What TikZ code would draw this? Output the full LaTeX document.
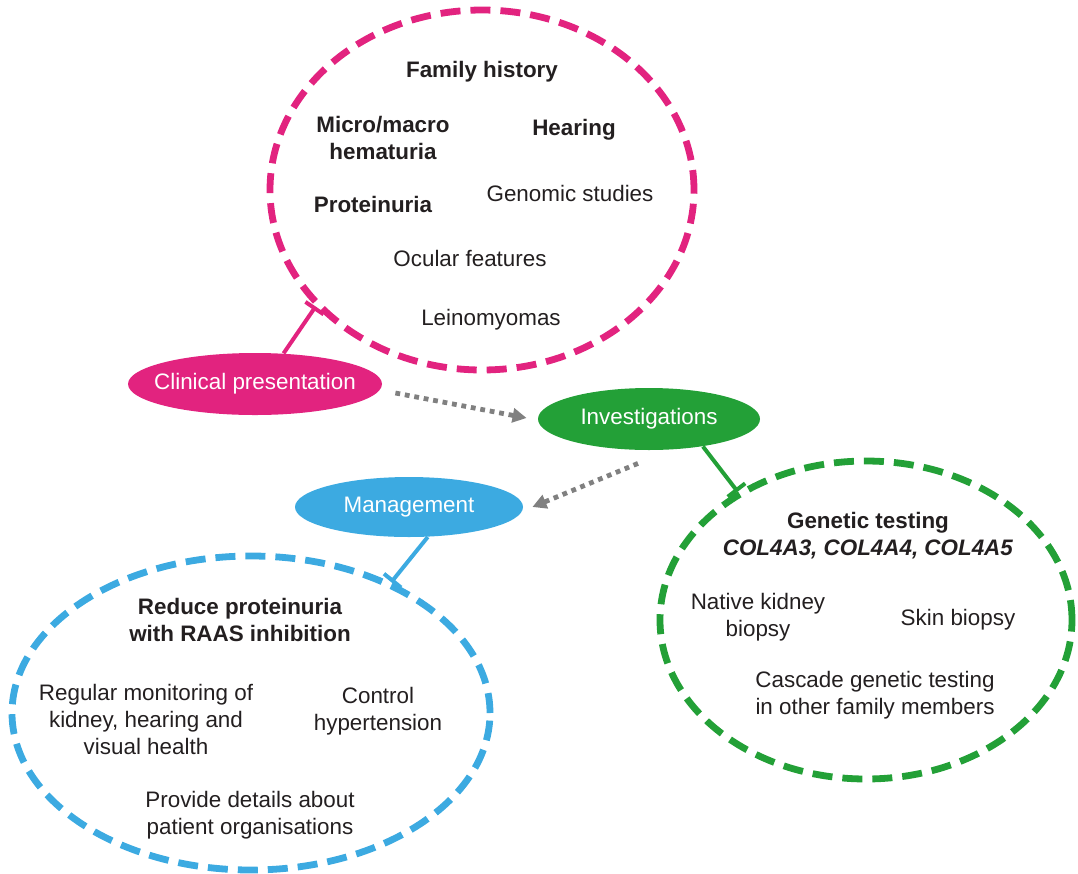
\documentclass[tikz,border=0pt]{standalone}
\usepackage{fontspec}
\setmainfont{Liberation Sans}
\usetikzlibrary{shapes.geometric,arrows.meta}
\definecolor{clinpink}{RGB}{226,35,127}
\definecolor{invgreen}{RGB}{35,160,55}
\definecolor{mgmtblue}{RGB}{60,170,225}
\definecolor{flowgray}{RGB}{128,128,128}
\definecolor{txt}{RGB}{35,31,32}

\begin{document}
\begin{tikzpicture}[x=0.5pt,y=-0.5pt,
  every node/.style={font=\fontsize{11.2}{13.5}\selectfont, text=txt, align=center},
  head/.style={font=\fontsize{11.2}{13.5}\selectfont\bfseries},
  group/.style={ellipse, draw, line width=3.4pt, dash pattern=on 10pt off 5pt, inner sep=0pt},
  tag/.style={ellipse, fill=#1, text=white, minimum height=31pt, inner sep=0pt},
  stem/.style={line width=2pt, -{Bar[width=11pt]}},
  flow/.style={flowgray, line width=2.4pt, dash pattern=on 2.4pt off 2.4pt, -{Triangle[length=7pt,width=7pt]}}]
  \useasboundingbox (0,0) rectangle (1078,874);

  \node[group, draw=clinpink, minimum width=212pt, minimum height=180pt] (clingroup) at (482,190) {};
  \node[group, draw=invgreen, minimum width=206pt, minimum height=159pt] (invgroup) at (866,620) {};
  \node[group, draw=mgmtblue, minimum width=239pt, minimum height=157pt] (mgmtgroup) at (251,713) {};

  \node[tag=clinpink, minimum width=127pt] (clin) at (255,384) {\makebox[0pt]{Clinical presentation}};
  \node[tag=invgreen, minimum width=111pt] (inv) at (649,419) {\makebox[0pt]{Investigations}};
  \node[tag=mgmtblue, minimum width=114pt, minimum height=30pt] (mgmt) at (409,507) {\makebox[0pt]{Management}};

  % clinical presentation
  \node[head] (famhist) at (482,72) {Family history};
  \node[head] (hematuria) at (383,138) {Micro/macro\\hematuria};
  \node[head] (hearing) at (574,130) {Hearing};
  \node[head] (proteinuria) at (373,204) {Proteinuria};
  \node (genomic) at (570,193) {Genomic studies};
  \node (ocular) at (470,258) {Ocular features};
  \node (leino) at (491,320) {Leinomyomas};

  % investigations
  \node[head] (genetic) at (868,536) {Genetic testing\\\textit{COL4A3, COL4A4, COL4A5}};
  \node (kidney) at (758,617) {Native kidney\\biopsy};
  \node (skin) at (958,620) {Skin biopsy};
  \node (cascade) at (875,695) {Cascade genetic testing\\in other family members};

  % management
  \node[head] (raas) at (240,620) {Reduce proteinuria\\with RAAS inhibition};
  \node (monitor) at (146,719) {Regular monitoring of\\kidney, hearing and\\visual health};
  \node (hyper) at (378,711) {Control\\hypertension};
  \node (orgs) at (250,815) {Provide details about\\patient organisations};

  \draw[stem, clinpink] (clin.47) -- (clingroup.215);
  \draw[stem, invgreen] (inv.-27) -- (invgroup.135);
  \draw[stem, mgmtblue] (mgmt.-58) -- (mgmtgroup.43);

  \draw[flow] ([shift={(13,9)}]clin.east) -- ([shift={(-11,-1)}]inv.west);
  \draw[flow] ([shift={(-11,13)}]inv.south) -- ([shift={(9,0)}]mgmt.east);
\end{tikzpicture}
\end{document}
